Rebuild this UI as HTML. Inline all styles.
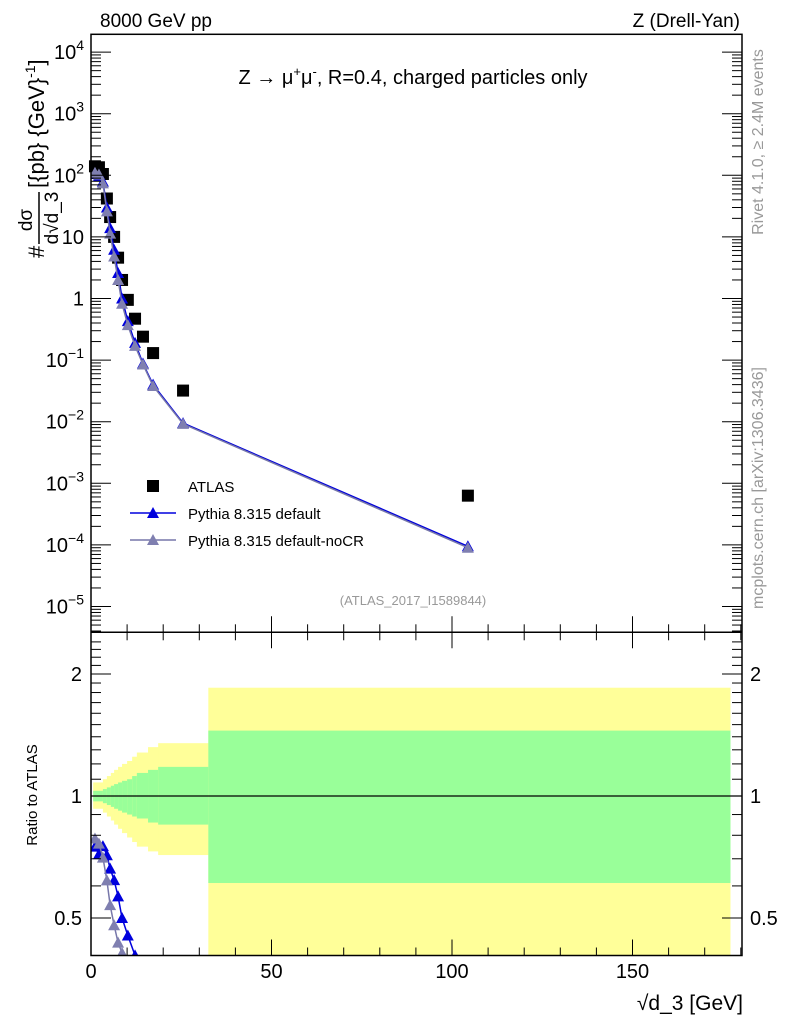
<!DOCTYPE html>
<html><head><meta charset="utf-8"><style>
html,body{margin:0;background:#fff;overflow:hidden;width:786px;height:1024px}
svg{display:block}
svg text{font-family:"Liberation Sans",sans-serif}
</style></head><body>
<svg id="c" width="786" height="1024" xmlns="http://www.w3.org/2000/svg">
<g id="bands"></g>
<g id="marks"></g>
<g id="axes"></g>
<text x="100" y="27" font-size="19">8000 GeV pp</text>
<text x="740" y="27" font-size="19" text-anchor="end">Z (Drell-Yan)</text>
<text x="413" y="84" font-size="20" text-anchor="middle">Z → μ<tspan font-size="13" dy="-8">+</tspan><tspan dy="8">μ</tspan><tspan font-size="13" dy="-8">-</tspan><tspan dy="8">, R=0.4, charged particles only</tspan></text>
<text x="413" y="605" font-size="13" fill="#999" text-anchor="middle">(ATLAS_2017_I1589844)</text>
<text transform="translate(763,142) rotate(-90)" font-size="16" fill="#999" text-anchor="middle">Rivet 4.1.0, ≥ 2.4M events</text>
<text transform="translate(763,488) rotate(-90)" font-size="16" fill="#999" text-anchor="middle">mcplots.cern.ch [arXiv:1306.3436]</text>
<g transform="translate(40,146) rotate(-90)">
<text x="-112" y="4" font-size="22">#</text>
<text x="-74" y="-8" font-size="19" text-anchor="middle">dσ</text>
<line x1="-98" y1="-1" x2="-46" y2="-1" stroke="#000" stroke-width="1.5"/>
<text x="-72" y="18" font-size="19" text-anchor="middle">d√d_3</text>
<text x="-42" y="4" font-size="22">[{pb} {GeV}<tspan font-size="14" dy="-9">-1</tspan><tspan dy="9">]</tspan></text>
</g>
<text transform="translate(37,795) rotate(-90)" font-size="15" text-anchor="middle">Ratio to ATLAS</text>
<text x="743" y="1010" font-size="21" text-anchor="end">√d_3 [GeV]</text>
<g>
<rect x="147" y="480" width="12" height="12" fill="#000"/>
<text x="188" y="492" font-size="15">ATLAS</text>
<line x1="130" y1="513" x2="176" y2="513" stroke="#0000dd" stroke-width="1.5"/>
<polygon points="147,518 159,518 153,507" fill="#0000dd"/>
<text x="188" y="519" font-size="15">Pythia 8.315 default</text>
<line x1="130" y1="540" x2="176" y2="540" stroke="#7777aa" stroke-width="1.5"/>
<polygon points="147,545 159,545 153,534" fill="#7f7fb0"/>
<text x="188" y="546" font-size="15">Pythia 8.315 default-noCR</text>
</g>
</svg>
<script>
const xVals=[1.1,2.2,3.3,4.4,5.3,6.4,7.5,8.6,10.2,12.2,14.4,17.2,25.5,104.4];
const atlas=[140,135,105,42,21,10,4.6,2.0,0.95,0.47,0.24,0.13,0.032,0.00063];
const pyDefault=[105,97,79,30,13.9,6.2,2.6,1.0,0.43,0.19,0.088,0.04,0.0095,0.000095];
const pyNoCR=[110,103,74,26,11.3,4.8,2.0,0.82,0.37,0.17,0.085,0.038,0.0092,0.00009];
const bandEdges=[0.6,3.3,4.4,5.5,6.4,7.5,8.6,10,11.4,12.7,15.8,18.6,32.5,177];
const yelUp=[1.08,1.10,1.12,1.14,1.16,1.18,1.20,1.22,1.25,1.28,1.32,1.35,1.85];
const yelLo=[0.93,0.91,0.89,0.87,0.85,0.83,0.81,0.79,0.77,0.75,0.73,0.715,0.3];
const grnUp=[1.03,1.04,1.05,1.06,1.07,1.08,1.09,1.10,1.12,1.14,1.16,1.18,1.45];
const grnLo=[0.97,0.96,0.95,0.94,0.93,0.92,0.91,0.90,0.89,0.88,0.86,0.85,0.61];
const xTicks=[0,50,100,150];
const yTicks=[4,3,2,1,0,-1,-2,-3,-4,-5];
const rTicks=[2,1,0.5];

const NS='http://www.w3.org/2000/svg';
const L=91,R=742,T=34.3,MID=632.3,B=955.5;
const X=v=>L+(v)*3.61;
const Y=v=>298.5-61.6*Math.log10(v);
const RY=r=>796-405.3*Math.log10(r);
function mk(p,tag,a){const e=document.createElementNS(NS,tag);for(const k in a)e.setAttribute(k,a[k]);p.appendChild(e);return e;}
const bands=document.getElementById('bands'),marks=document.getElementById('marks'),axes=document.getElementById('axes');
const clip=mk(document.getElementById('c'),'clipPath',{id:'rc'});mk(clip,'rect',{x:L,y:MID,width:R-L,height:B-MID});
const clip2=mk(document.getElementById('c'),'clipPath',{id:'mc'});mk(clip2,'rect',{x:L,y:T,width:R-L,height:MID-T});
bands.setAttribute('clip-path','url(#rc)');
for(let i=0;i<yelUp.length;i++){
 const x0=X(bandEdges[i]),x1=X(bandEdges[i+1]);
 let e=mk(bands,'rect',{x:x0,y:RY(yelUp[i]),width:x1-x0+0.5,height:RY(yelLo[i])-RY(yelUp[i]),fill:'#ffff99'});
 
 
 e=mk(bands,'rect',{x:x0,y:RY(grnUp[i]),width:x1-x0+0.5,height:RY(grnLo[i])-RY(grnUp[i]),fill:'#99ff99'});
 
 
}
mk(marks,'line',{x1:L,y1:RY(1),x2:R,y2:RY(1),stroke:'#000','stroke-width':1.2});
function series(vals,col,fill,name){
 const gm=mk(marks,'g',{'clip-path':'url(#mc)'});
 
 
 mk(gm,'polyline',{points:vals.map((v,i)=>X(xVals[i])+','+Y(v)).join(' '),fill:'none',stroke:col,'stroke-width':1.5});
 const gr=mk(marks,'g',{'clip-path':'url(#rc)'});
 
 
 mk(gr,'polyline',{points:vals.map((v,i)=>X(xVals[i])+','+RY(v/atlas[i])).join(' '),fill:'none',stroke:col,'stroke-width':1.5});
 vals.forEach((v,i)=>{
  const x=X(xVals[i]);
  [[gm,Y(v)],[gr,RY(v/atlas[i])]].forEach(([g,y])=>{
   const p=mk(g,'polygon',{points:`${x-6},${y+5} ${x+6},${y+5} ${x},${y-6}`,fill:fill});
   
   
  });
 });
}
atlas.forEach((v,i)=>{
 const r=mk(marks,'rect',{x:X(xVals[i])-6,y:Y(v)-6,width:12,height:12,fill:'#000'});
 
 
});
series(pyDefault,'#0000dd','#0000dd','pythia-default');
series(pyNoCR,'#7777aa','#7f7fb0','pythia-nocr');
mk(axes,'rect',{x:L,y:T,width:R-L,height:B-T,fill:'none',stroke:'#000','stroke-width':1.5});
mk(axes,'line',{x1:L,y1:MID,x2:R,y2:MID,stroke:'#000','stroke-width':1.5});
for(let v=0;v<=180;v+=10){
 const x=X(v),big=v%50===0,h=big?16:8;
 [MID,B].forEach(y=>mk(axes,'line',{x1:x,y1:y,x2:x,y2:y-h,stroke:'#000'}));
 mk(axes,'line',{x1:x,y1:MID,x2:x,y2:MID+h,stroke:'#000'});
}
xTicks.forEach(v=>{const t=mk(axes,'text',{x:X(v),y:978,'font-size':20,'text-anchor':'middle'});t.textContent=v;
 
 });
for(let d=-6;d<=4;d++){for(let m=1;m<10;m++){
 const y=Y(m*Math.pow(10,d));if(y<T||y>MID)continue;const h=m===1?20:10;
 mk(axes,'line',{x1:L,y1:y,x2:L+h,y2:y,stroke:'#000'});mk(axes,'line',{x1:R,y1:y,x2:R-h,y2:y,stroke:'#000'});}}
yTicks.forEach(d=>{
 const y=Y(Math.pow(10,d));const t=mk(axes,'text',{x:84,y:y+7,'font-size':20,'text-anchor':'end'});
 
 
 if(d===0)t.textContent='1';else if(d===1)t.textContent='10';
 else{t.textContent='10';const s=mk(t,'tspan',{dy:-9,'font-size':14});s.textContent=d<0?'−'+(-d):String(d);}
});
for(let r=0.4;r<=2.5;r+=0.1){const rr=Math.round(r*10)/10;const y=RY(rr);if(y<MID||y>B)continue;
 const h=(rr===1||rr===2||rr===0.5)?20:10;
 mk(axes,'line',{x1:L,y1:y,x2:L+h,y2:y,stroke:'#000'});mk(axes,'line',{x1:R,y1:y,x2:R-h,y2:y,stroke:'#000'});}
rTicks.forEach(r=>{[[82,'end'],[750,'start']].forEach(([x,a])=>{
 const t=mk(axes,'text',{x:x,y:RY(r)+7,'font-size':20,'text-anchor':a});t.textContent=r;
 
 });});
</script>
</body></html>
